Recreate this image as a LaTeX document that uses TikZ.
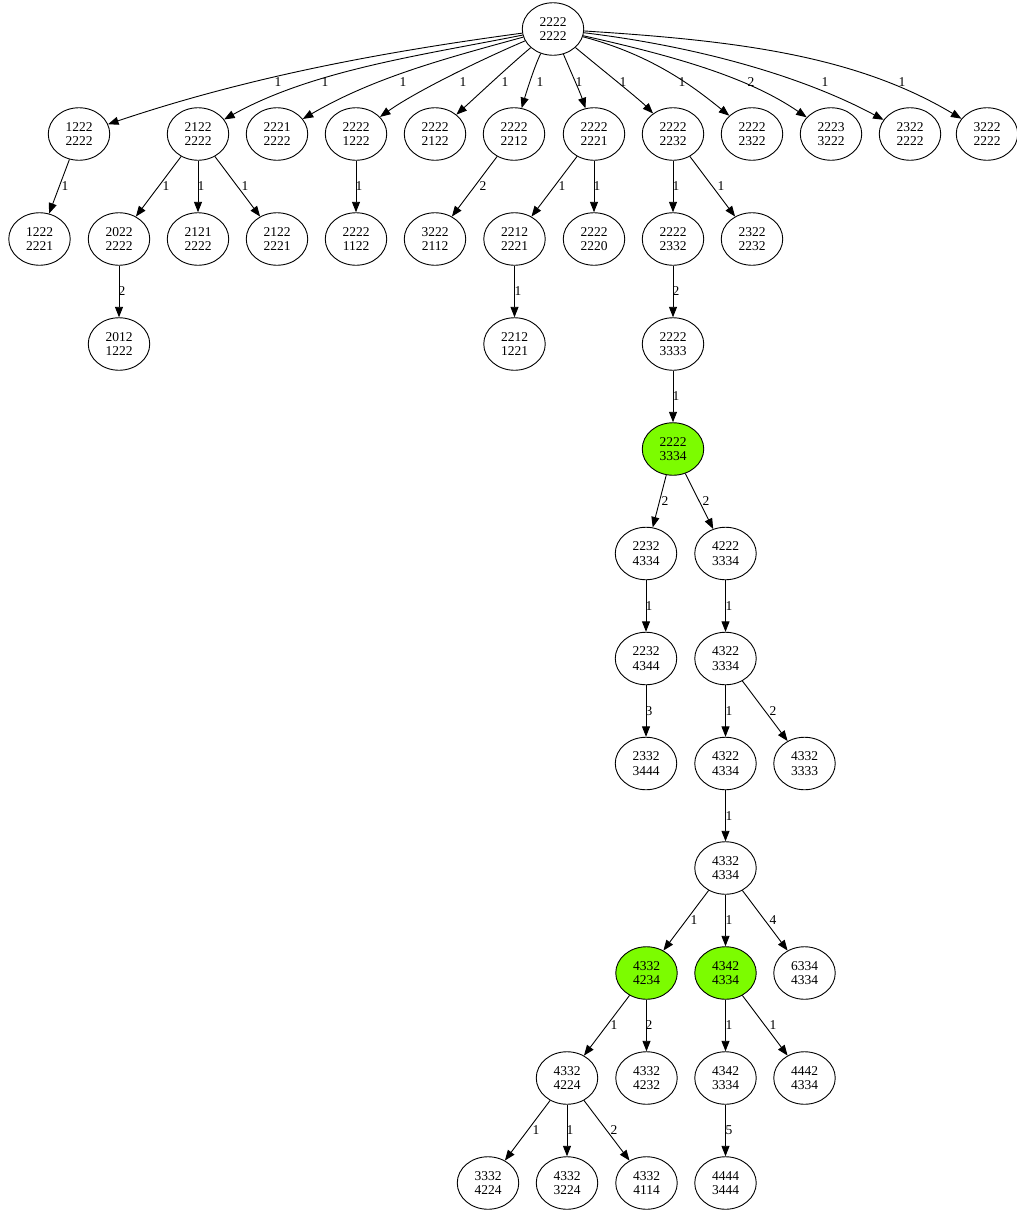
\documentclass[tikz,border=0pt]{standalone}
\usepackage{fontspec}
\setmainfont{Liberation Serif}
\usetikzlibrary{arrows.meta,shapes.geometric}
\definecolor{lawngreen}{HTML}{7CFC00}
\begin{document}
\begin{tikzpicture}[x=1pt,y=-1pt,
  st/.style={ellipse, draw, line width=0.9pt, minimum width=61.5pt, minimum height=52.5pt, inner sep=0pt, align=center, font=\fontsize{13.5}{14.7}\selectfont},
  hl/.style={st, fill=lawngreen},
  edge/.style={-{Triangle[length=10.5pt,width=8pt]}, line width=0.9pt},
  lbl/.style={inner sep=0pt, font=\fontsize{13.5}{14.7}\selectfont}]
\useasboundingbox (0,0) rectangle (1017,1211);
% row 0
\node[st] (root) at (553,29) {2222\\2222};
% row 1
\node[st] (n1a) at (79,134) {1222\\2222};
\node[st] (n1b) at (198,134) {2122\\2222};
\node[st] (n1c) at (277,134) {2221\\2222};
\node[st] (n1d) at (356,134) {2222\\1222};
\node[st] (n1e) at (435,134) {2222\\2122};
\node[st] (n1f) at (514,134) {2222\\2212};
\node[st] (n1g) at (594,134) {2222\\2221};
\node[st] (n1h) at (673,134) {2222\\2232};
\node[st] (n1i) at (752,134) {2222\\2322};
\node[st] (n1j) at (831,134) {2223\\3222};
\node[st] (n1k) at (910,134) {2322\\2222};
\node[st] (n1l) at (987,134) {3222\\2222};
% row 2
\node[st] (n2a) at (39.5,239) {1222\\2221};
\node[st] (n2b) at (119,239) {2022\\2222};
\node[st] (n2c) at (198,239) {2121\\2222};
\node[st] (n2d) at (277,239) {2122\\2221};
\node[st] (n2e) at (356,239) {2222\\1122};
\node[st] (n2f) at (435,239) {3222\\2112};
\node[st] (n2g) at (514.5,239) {2212\\2221};
\node[st] (n2h) at (594,239) {2222\\2220};
\node[st] (n2i) at (673,239) {2222\\2332};
\node[st] (n2j) at (752,239) {2322\\2232};
% row 3
\node[st] (n3a) at (119,344) {2012\\1222};
\node[st] (n3b) at (514.5,344) {2212\\1221};
\node[st] (n3c) at (673,344) {2222\\3333};
% row 4
\node[hl] (n4) at (673,449) {2222\\3334};
% row 5
\node[st] (n5a) at (646,553.5) {2232\\4334};
\node[st] (n5b) at (725.5,553.5) {4222\\3334};
% row 6
\node[st] (n6a) at (646,658.5) {2232\\4344};
\node[st] (n6b) at (725.5,658.5) {4322\\3334};
% row 7
\node[st] (n7a) at (646,763.5) {2332\\3444};
\node[st] (n7b) at (725.5,763.5) {4322\\4334};
\node[st] (n7c) at (804.5,763.5) {4332\\3333};
% row 8
\node[st] (n8) at (725.5,868) {4332\\4334};
% row 9
\node[hl] (n9a) at (646.5,973) {4332\\4234};
\node[hl] (n9b) at (725.5,973) {4342\\4334};
\node[st] (n9c) at (804.5,973) {6334\\4334};
% row 10
\node[st] (n10a) at (567,1078) {4332\\4224};
\node[st] (n10b) at (646.5,1078) {4332\\4232};
\node[st] (n10c) at (725.5,1078) {4342\\3334};
\node[st] (n10d) at (804.5,1078) {4442\\4334};
% row 11
\node[st] (n11a) at (488,1183) {3332\\4224};
\node[st] (n11b) at (567,1183) {4332\\3224};
\node[st] (n11c) at (646.5,1183) {4332\\4114};
\node[st] (n11d) at (725.5,1183) {4444\\3444};

% edges from root
\draw[edge] (root) .. controls (382,52) and (248,77) .. (n1a) node[lbl] at (278,82) {1};
\draw[edge] (root) .. controls (423,55) and (313,70) .. (n1b) node[lbl] at (325,82) {1};
\draw[edge] (root) .. controls (443,59) and (373,78) .. (n1c) node[lbl] at (403,82) {1};
\draw[edge] (root) .. controls (480,60) and (415,92) .. (n1d) node[lbl] at (463,82) {1};
\draw[edge] (root) .. controls (510,65) and (478,95) .. (n1e) node[lbl] at (505,82) {1};
\draw[edge] (root) .. controls (535,65) and (527,90) .. (n1f) node[lbl] at (540,82) {1};
\draw[edge] (root) .. controls (570,70) and (580,92) .. (n1g) node[lbl] at (579,82) {1};
\draw[edge] (root) .. controls (605,72) and (640,100) .. (n1h) node[lbl] at (623,82) {1};
\draw[edge] (root) .. controls (653,55) and (695,88) .. (n1i) node[lbl] at (682,82) {1};
\draw[edge] (root) .. controls (674,56) and (748,77) .. (n1j) node[lbl] at (751,82) {2};
\draw[edge] (root) .. controls (694,46) and (800,75) .. (n1k) node[lbl] at (825,82) {1};
\draw[edge] (root) .. controls (735,40.5) and (855,55) .. (n1l) node[lbl] at (902,82) {1};

% row 1 -> row 2
\draw[edge] (n1a) -- (n2a) node[lbl] at (65,186.5) {1};
\draw[edge] (n1b) -- (n2b) node[lbl] at (166,186.5) {1};
\draw[edge] (n1b) -- (n2c) node[lbl] at (201,186.5) {1};
\draw[edge] (n1b) -- (n2d) node[lbl] at (245,186.5) {1};
\draw[edge] (n1d) -- (n2e) node[lbl] at (359,186.5) {1};
\draw[edge] (n1f) -- (n2f) node[lbl] at (483,186.5) {2};
\draw[edge] (n1g) -- (n2g) node[lbl] at (562,186.5) {1};
\draw[edge] (n1g) -- (n2h) node[lbl] at (597,186.5) {1};
\draw[edge] (n1h) -- (n2i) node[lbl] at (676,186.5) {1};
\draw[edge] (n1h) -- (n2j) node[lbl] at (721,186.5) {1};
% row 2 -> row 3
\draw[edge] (n2b) -- (n3a) node[lbl] at (122,291.5) {2};
\draw[edge] (n2g) -- (n3b) node[lbl] at (518,291.5) {1};
\draw[edge] (n2i) -- (n3c) node[lbl] at (676,291.5) {2};
% row 3 -> 4
\draw[edge] (n3c) -- (n4) node[lbl] at (676,396.5) {1};
% row 4 -> 5
\draw[edge] (n4) -- (n5a) node[lbl] at (665,501) {2};
\draw[edge] (n4) -- (n5b) node[lbl] at (706,501) {2};
% row 5 -> 6
\draw[edge] (n5a) -- (n6a) node[lbl] at (649,606) {1};
\draw[edge] (n5b) -- (n6b) node[lbl] at (729,606) {1};
% row 6 -> 7
\draw[edge] (n6a) -- (n7a) node[lbl] at (649,711) {3};
\draw[edge] (n6b) -- (n7b) node[lbl] at (729,711) {1};
\draw[edge] (n6b) -- (n7c) node[lbl] at (773,711) {2};
% row 7 -> 8
\draw[edge] (n7b) -- (n8) node[lbl] at (729,816) {1};
% row 8 -> 9
\draw[edge] (n8) -- (n9a) node[lbl] at (694,920.5) {1};
\draw[edge] (n8) -- (n9b) node[lbl] at (729,920.5) {1};
\draw[edge] (n8) -- (n9c) node[lbl] at (773,920.5) {4};
% row 9 -> 10
\draw[edge] (n9a) -- (n10a) node[lbl] at (614,1025.5) {1};
\draw[edge] (n9a) -- (n10b) node[lbl] at (649,1025.5) {2};
\draw[edge] (n9b) -- (n10c) node[lbl] at (729,1025.5) {1};
\draw[edge] (n9b) -- (n10d) node[lbl] at (773,1025.5) {1};
% row 10 -> 11
\draw[edge] (n10a) -- (n11a) node[lbl] at (536,1130.5) {1};
\draw[edge] (n10a) -- (n11b) node[lbl] at (570,1130.5) {1};
\draw[edge] (n10a) -- (n11c) node[lbl] at (614,1130.5) {2};
\draw[edge] (n10c) -- (n11d) node[lbl] at (729,1130.5) {5};
\end{tikzpicture}
\end{document}
